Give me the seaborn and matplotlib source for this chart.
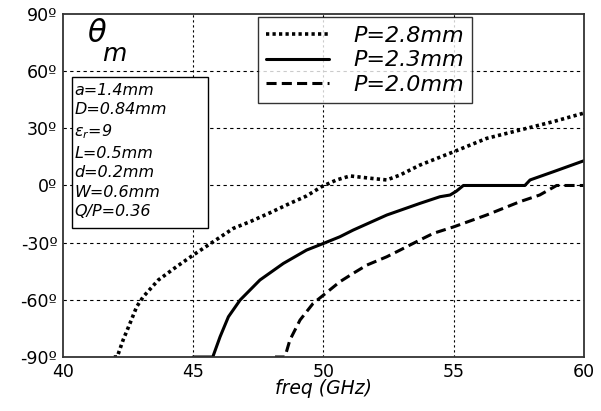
import matplotlib
matplotlib.use('Agg')
import matplotlib.pyplot as plt
import seaborn as sns
import pandas as pd
from matplotlib.patches import Rectangle

# theta_m (deg) vs frequency (GHz)
p28_freq = [41.95, 42.08, 42.31, 42.57, 42.83, 43.08, 43.66, 44.36, 45.0, 45.77, 46.54,
            47.18, 47.95, 48.71, 49.35, 49.93, 50.5, 51.02, 51.79, 52.43, 52.94, 53.7,
            55.0, 56.26, 57.54, 58.82, 60.0]
p28_theta = [-90, -90, -81, -72.4, -63.6, -58.4, -49.6, -42.6, -36.5, -29.5, -22.5,
             -19, -14.3, -9.4, -5.5, -0.6, 2.9, 5.0, 3.8, 2.9, 5.5, 10.7,
             17.7, 24.7, 29.1, 33.5, 38]

p23_freq = [45.0, 45.75, 46.03, 46.35, 46.8, 47.56, 48.46, 49.35, 50.0, 50.63, 51.14,
            52.43, 53.7, 54.47, 54.86, 55.1, 55.37, 57.73, 57.93, 58.82, 60.0]
p23_theta = [-90, -90, -79.4, -68.9, -60.1, -49.6, -40.9, -33.9, -30.4, -26.9, -23.4,
             -15.5, -9.4, -5.9, -5.0, -3.0, 0, 0, 2.9, 7.2, 13]

p20_freq = [48.14, 48.52, 48.71, 49.1, 49.6, 50.0, 50.63, 51.14, 51.66, 52.43, 52.94,
            53.7, 54.22, 55.0, 56.26, 57.54, 58.3, 58.95, 60.0]
p20_theta = [-90, -90, -81.1, -70.6, -61.9, -57.5, -50.5, -46.1, -41.8, -37.4, -33.9,
             -28.6, -25.1, -21.7, -15.5, -8.5, -5.0, 0, 0]

labels = ['P=2.8mm', 'P=2.3mm', 'P=2.0mm']
x_ticks = [40, 45, 50, 55, 60]
y_ticks = [-90, -60, -30, 0, 30, 60, 90]
params = ['a=1.4mm', 'D=0.84mm', r'$\varepsilon_r$=9', 'L=0.5mm',
          'd=0.2mm', 'W=0.6mm', 'Q/P=0.36']

df = pd.concat([
    pd.DataFrame({'freq': p28_freq, 'theta': p28_theta, 'P': labels[0]}),
    pd.DataFrame({'freq': p23_freq, 'theta': p23_theta, 'P': labels[1]}),
    pd.DataFrame({'freq': p20_freq, 'theta': p20_theta, 'P': labels[2]}),
])

sns.set_style('white')
plt.rcParams['font.family'] = ['DejaVu Sans']
plt.rcParams['text.color'] = 'black'
plt.rcParams['axes.labelcolor'] = 'black'

fig = plt.figure(figsize=(6.01, 4.11), dpi=100)
ax = fig.add_axes([0.1048, 0.1314, 0.8669, 0.8346])

styles = {
    labels[0]: dict(lw=2.6, dashes=(0.9, 0.9), dash_capstyle='butt'),
    labels[1]: dict(lw=2.2, linestyle='-'),
    labels[2]: dict(lw=2.2, dashes=(3.3, 1.7)),
}
for lab in labels:
    sub = df[df['P'] == lab]
    sns.lineplot(data=sub, x='freq', y='theta', ax=ax, color='black',
                 label=lab, sort=False, estimator=None, **styles[lab])

ax.set_xlim(40, 60)
ax.set_ylim(-90, 90)
ax.set_xticks(x_ticks)
ax.set_yticks(y_ticks)
ax.set_xticklabels([str(t) for t in x_ticks])
ax.set_yticklabels([f'{t}º' for t in y_ticks])
ax.tick_params(labelsize=12.5, direction='in', length=4, width=0.8,
               colors='black', pad=4)

for t in y_ticks[1:-1]:
    ax.axhline(t, color='black', lw=0.8, dashes=(3, 3), zorder=0.5)
for t in x_ticks[1:-1]:
    ax.axvline(t, color='black', lw=0.8, dashes=(2, 2.5), zorder=0.5)

for sp in ax.spines.values():
    sp.set_color('#333333')
    sp.set_linewidth(1.3)

ax.set_xlabel('freq (GHz)', fontsize=13.5, fontstyle='italic', labelpad=-1)
ax.set_ylabel('')

leg = ax.legend(loc='upper left', bbox_to_anchor=(0.374, 0.99), fontsize=16,
                frameon=True, fancybox=False, handlelength=2.8, handletextpad=1.1,
                labelspacing=0.2, borderpad=0.38, borderaxespad=0)
leg.get_frame().set_edgecolor('black')
leg.get_frame().set_linewidth(1.0)
for txt in leg.get_texts():
    txt.set_fontstyle('italic')
    txt.set_color('black')

# theta_m title inside the axes
ax.text(0.046, 0.917, r'$\theta$', transform=ax.transAxes, fontsize=22,
        ha='left', va='baseline')
ax.text(0.075, 0.863, 'm', transform=ax.transAxes, fontsize=18,
        fontstyle='italic', ha='left', va='baseline')

# parameter box
ax.add_patch(Rectangle((0.018, 0.376), 0.261, 0.441, transform=ax.transAxes,
                       facecolor='white', edgecolor='black', lw=1.0, zorder=3))
ax.text(0.022, 0.8, '\n'.join(params), transform=ax.transAxes, fontsize=11.5,
        fontstyle='italic', ha='left', va='top', linespacing=1.38, zorder=4)

fig.savefig('out.png', dpi=100)
